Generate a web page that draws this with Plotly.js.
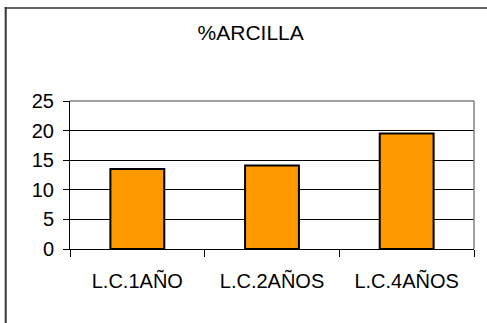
<!DOCTYPE html>
<html>
<head>
<meta charset="utf-8">
<script src="https://cdn.plot.ly/plotly-3.0.1.min.js"></script>
<style>
html,body{margin:0;padding:0;background:#fff;}
#chart{width:487px;height:323px;}
</style>
</head>
<body>
<div id="chart"></div>
<script>
const categories = ["L.C.1AÑO", "L.C.2AÑOS", "L.C.4AÑOS"];
const arcilla = [13.5, 14.1, 19.5];
const yTicks = [0, 5, 10, 15, 20, 25];
const chartTitle = "%ARCILLA";

const W = 487, H = 323;
const mL = 70, mR = 13, mT = 101, mB = 74;
const pw = W - mL - mR, ph = H - mT - mB;
const px = x => (x - mL) / pw;
const py = y => (H - mB - y) / ph;

const font = {family: "Liberation Sans, Arial, sans-serif", size: 20, color: "#000"};

const trace = {
  type: "bar",
  x: categories,
  y: arcilla,
  marker: {color: "#FF9900", line: {color: "#000", width: 2}},
  hoverinfo: "none"
};

const layout = {
  width: W, height: H,
  margin: {l: mL, r: mR, t: mT, b: mB, pad: 0},
  paper_bgcolor: "#fff",
  plot_bgcolor: "#fff",
  showlegend: false,
  bargap: 0.6,
  font: font,
  title: {
    text: chartTitle,
    font: {family: font.family, size: 21, color: "#000"},
    xref: "container", x: 250.7 / W, xanchor: "center",
    yref: "container", y: 1 - 33 / H, yanchor: "middle"
  },
  xaxis: {
    type: "category",
    tickson: "boundaries",
    ticks: "outside", ticklen: 7, tickcolor: "#000", tickwidth: 1,
    showline: true, linecolor: "#000", linewidth: 1,
    showgrid: false, zeroline: false,
    tickfont: font,
    ticklabelstandoff: 14
  },
  yaxis: {
    range: [0, 25],
    tickvals: yTicks,
    ticktext: yTicks.map(String),
    ticks: "outside", ticklen: 6, tickcolor: "#000", tickwidth: 1,
    showline: true, linecolor: "#000", linewidth: 1,
    showgrid: true, gridcolor: "#000", gridwidth: 1,
    zeroline: false,
    tickfont: font,
    ticklabelstandoff: 5
  },
  shapes: [
    {type: "line", xref: "paper", yref: "paper", x0: 0, x1: 1, y0: 1, y1: 1,
     line: {color: "#808080", width: 1.5}, layer: "above"},
    {type: "line", xref: "paper", yref: "paper", x0: 1, x1: 1, y0: 0, y1: 1,
     line: {color: "#808080", width: 1.5}, layer: "above"},
    {type: "line", xref: "paper", yref: "paper", x0: px(5.7), x1: px(5.7), y0: py(7), y1: py(330),
     line: {color: "#333", width: 2}, layer: "above"},
    {type: "line", xref: "paper", yref: "paper", x0: px(4.7), x1: px(495), y0: py(8), y1: py(8),
     line: {color: "#333", width: 1.5}, layer: "above"}
  ]
};

Plotly.newPlot("chart", [trace], layout, {staticPlot: true, displayModeBar: false});
</script>
</body>
</html>
